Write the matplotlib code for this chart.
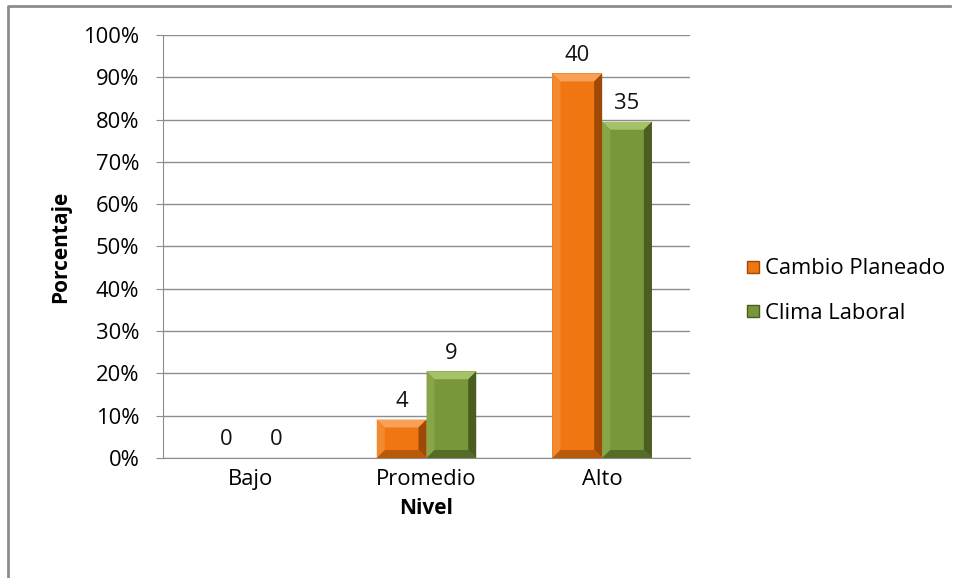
import matplotlib.pyplot as plt
import numpy as np
from matplotlib.patches import Polygon
from matplotlib.lines import Line2D

niveles = ['Bajo', 'Promedio', 'Alto']
series = ['Cambio Planeado', 'Clima Laboral']
# porcentajes (altura de barras) y frecuencias (etiquetas)
cambio_pct = [0, 9.1, 90.9]
clima_pct = [0, 20.5, 79.5]
cambio_n = [0, 4, 40]
clima_n = [0, 9, 35]

plt.rcParams['font.family'] = ['Open Sans', 'DejaVu Sans']
fs = 15.8

fig = plt.figure(figsize=(9.6, 5.78), dpi=100)
ax = fig.add_axes([163/960, 1 - 458/578, (690 - 163)/960, (458 - 35)/578])
ax.set_xlim(-0.5, 2.5)
ax.set_ylim(0, 100)

# base, superior, izquierda, derecha, inferior
colores = [('#EF7611', '#F8A055', '#F28A30', '#9E4A06', '#B85A0A'),
           ('#78963A', '#A5C268', '#88A548', '#4A5E22', '#556B27')]
x = np.arange(len(niveles))
w = 0.283

def bevel(ax, x0, x1, h, cols, px=8):
    base, top, left, right, bottom = cols
    # ancho del bisel: pixeles -> datos
    sx = (ax.get_xlim()[1] - ax.get_xlim()[0]) / (527.0)
    sy = (ax.get_ylim()[1] - ax.get_ylim()[0]) / (423.0)
    dx, dy = px * sx, px * sy
    if h < 2 * dy:
        dy = h / 2.0 * 0.9
    ax.add_patch(Polygon([(x0, 0), (x1, 0), (x1, h), (x0, h)], closed=True, fc=base, ec='none', zorder=3))
    ax.add_patch(Polygon([(x0, h), (x1, h), (x1 - dx, h - dy), (x0 + dx, h - dy)], closed=True, fc=top, ec='none', zorder=4))
    ax.add_patch(Polygon([(x0, 0), (x0 + dx, dy), (x0 + dx, h - dy), (x0, h)], closed=True, fc=left, ec='none', zorder=4))
    ax.add_patch(Polygon([(x1, 0), (x1, h), (x1 - dx, h - dy), (x1 - dx, dy)], closed=True, fc=right, ec='none', zorder=4))
    ax.add_patch(Polygon([(x0, 0), (x1, 0), (x1 - dx, dy), (x0 + dx, dy)], closed=True, fc=bottom, ec='none', zorder=4))

for vals, nums, off, cols in [(cambio_pct, cambio_n, -w/2, colores[0]),
                              (clima_pct, clima_n, w/2, colores[1])]:
    for xi, v, n in zip(x, vals, nums):
        c = xi + off
        if v > 0:
            bevel(ax, c - w/2, c + w/2, v, cols)
        ax.text(c, v + 1.8, str(n), ha='center', va='bottom', fontsize=fs, color='#111111')

ax.set_yticks(np.arange(0, 101, 10))
ax.set_yticklabels([f'{t}%' for t in range(0, 101, 10)], fontsize=fs)
ax.set_xticks(x)
ax.set_xticklabels(niveles, fontsize=fs)
ax.grid(axis='y', color='#8c8c8c', lw=1)
ax.set_axisbelow(True)
for s in ['top', 'right']:
    ax.spines[s].set_visible(False)
ax.spines['left'].set_color('#8c8c8c')
ax.spines['bottom'].set_color('#8c8c8c')
ax.tick_params(axis='y', length=5, color='#8c8c8c', pad=12)
ax.tick_params(axis='x', length=0, pad=8)

ax.set_ylabel('Porcentaje', fontsize=15, fontweight='bold', labelpad=9)
ax.set_xlabel('Nivel', fontsize=15, fontweight='bold', labelpad=6)

handles = [Line2D([], [], marker='s', ls='none', markersize=9, markerfacecolor=colores[i][0],
                  markeredgecolor=colores[i][3]) for i in range(2)]
fig.legend(handles, series, loc='center left', bbox_to_anchor=(722/960, 1 - 291/578), frameon=False,
           fontsize=fs, handletextpad=0.05, labelspacing=1.05, handlelength=1)

# borde del grafico
fig.add_artist(Line2D([8/960, 8/960, 950/960], [0, 1 - 6/578, 1 - 6/578], color='#8c8c8c', lw=2,
                      transform=fig.transFigure))

fig.savefig('out.png', dpi=100)
